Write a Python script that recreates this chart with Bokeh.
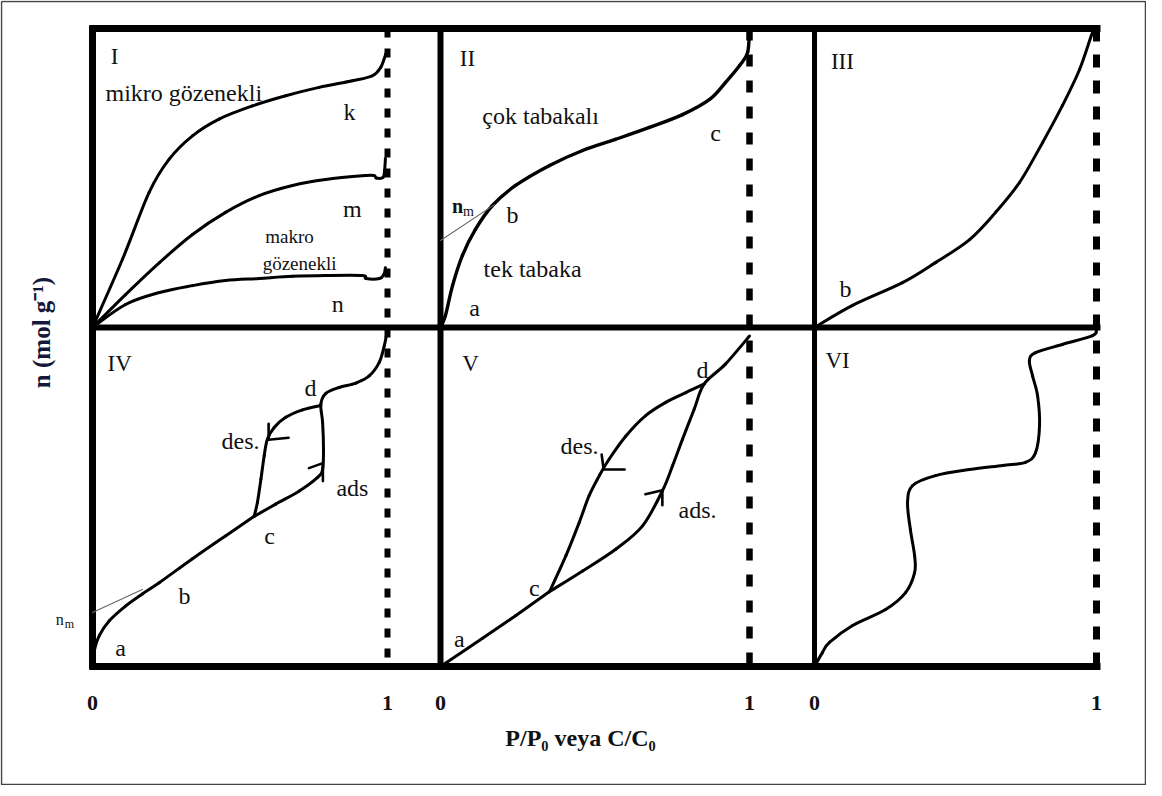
from bokeh.plotting import figure
from bokeh.models import Range1d
from bokeh.core.properties import value
from bokeh.embed import file_html
from bokeh.resources import INLINE

# ---------------- data: x = P/P0 (0..1), y = relative amount adsorbed n (0..1) ----------------
# Panel I  (micro / macro porous)
I_k_x = [0, 0.102, 0.192, 0.260, 0.339, 0.429, 0.542, 0.655, 0.768, 0.881, 0.949, 0.977, 0.994, 1.0]
I_k_y = [0, 0.229, 0.452, 0.563, 0.641, 0.697, 0.741, 0.775, 0.803, 0.825, 0.842, 0.870, 0.914, 0.925]
I_m_x = [0, 0.112, 0.227, 0.339, 0.451, 0.565, 0.678, 0.790, 0.925, 0.955, 0.962, 0.985, 0.990, 0.993]
I_m_y = [0, 0.110, 0.217, 0.311, 0.385, 0.441, 0.475, 0.495, 0.508, 0.508, 0.500, 0.502, 0.525, 0.565]
I_n_x = [0, 0.112, 0.227, 0.339, 0.451, 0.565, 0.678, 0.790, 0.915, 0.927, 0.973, 0.988, 0.993]
I_n_y = [0, 0.077, 0.117, 0.140, 0.157, 0.164, 0.171, 0.174, 0.174, 0.164, 0.164, 0.178, 0.200]

# Panel II
II_x = [0, 0.016, 0.039, 0.071, 0.113, 0.168, 0.243, 0.353, 0.460, 0.566, 0.676, 0.783, 0.871, 0.922, 0.968, 0.994, 1.0]
II_y = [0, 0.040, 0.140, 0.241, 0.328, 0.408, 0.475, 0.542, 0.592, 0.629, 0.669, 0.712, 0.763, 0.819, 0.876, 0.920, 1.0]
II_tan_x = [0, 0.175]
II_tan_y = [0.291, 0.411]

# Panel III
III_x = [0, 0.135, 0.312, 0.429, 0.550, 0.642, 0.727, 0.809, 0.879, 0.940, 0.986, 1.0]
III_y = [0, 0.074, 0.150, 0.217, 0.294, 0.385, 0.485, 0.619, 0.742, 0.863, 0.987, 1.0]

# Panel IV
IV_main_x = [0, 0.006, 0.023, 0.057, 0.113, 0.169, 0.226, 0.339, 0.452, 0.548]
IV_main_y = [0, 0.046, 0.091, 0.135, 0.179, 0.214, 0.247, 0.318, 0.386, 0.443]
IV_ads_x = [0.548, 0.621, 0.701, 0.763, 0.780, 0.783, 0.780, 0.774, 0.791, 0.836, 0.893, 0.938, 0.972, 0.989, 1.0]
IV_ads_y = [0.443, 0.479, 0.518, 0.558, 0.582, 0.641, 0.720, 0.774, 0.806, 0.823, 0.836, 0.857, 0.897, 0.946, 0.995]
IV_des_x = [0.774, 0.712, 0.655, 0.616, 0.593, 0.582, 0.571, 0.559, 0.548]
IV_des_y = [0.770, 0.757, 0.735, 0.705, 0.671, 0.622, 0.553, 0.484, 0.443]
IV_tan_x = [0, 0.169]
IV_tan_y = [0.159, 0.227]

# Panel V
V_main_x = [0, 0.136, 0.243, 0.353]
V_main_y = [0, 0.083, 0.150, 0.221]
V_ads_x = [0.353, 0.460, 0.567, 0.654, 0.718, 0.751, 0.783, 0.821, 0.853, 0.922, 1.0]
V_ads_y = [0.221, 0.282, 0.346, 0.415, 0.518, 0.592, 0.670, 0.759, 0.833, 0.892, 0.975]
V_des_x = [0.853, 0.794, 0.729, 0.664, 0.600, 0.546, 0.514, 0.481, 0.449, 0.406, 0.353]
V_des_y = [0.833, 0.808, 0.779, 0.740, 0.680, 0.612, 0.563, 0.504, 0.425, 0.327, 0.221]

# Panel VI (stepwise)
VI_x = [0, 0.028, 0.053, 0.135, 0.252, 0.323, 0.355, 0.355, 0.340, 0.330, 0.348, 0.429, 0.550,
        0.667, 0.748, 0.784, 0.798, 0.791, 0.773, 0.762, 0.784, 0.879, 0.986, 1.0]
VI_y = [0, 0.041, 0.071, 0.121, 0.168, 0.218, 0.277, 0.327, 0.404, 0.484, 0.534, 0.563, 0.581,
        0.593, 0.602, 0.631, 0.711, 0.799, 0.858, 0.903, 0.926, 0.950, 0.976, 0.994]

TICK_VALUES = [0, 1]
TICK_LABELS = ["0", "1"]
X_LABEL = "P/P\u2080 veya C/C\u2080"
Y_LABEL = "n (mol g\u207b\u00b9)"

# ---------------- layout (page pixels) ----------------
W, H = 1146, 785
PX0, PY0 = 8, 8
COL_X0 = [100, 448, 822]     # pixel of P/P0 = 0 in each column
COL_X1 = [395, 757, 1104]    # pixel of P/P0 = 1
ROW_Y0 = [335, 674]          # pixel of n = 0 in each row
ROW_Y1 = [36, 335]           # pixel of n = 1

p = figure(width=W, height=H, x_range=Range1d(PX0, PX0 + W), y_range=Range1d(PY0 + H, PY0),
           output_backend="svg", toolbar_location=None, x_axis_type=None, y_axis_type=None,
           min_border=0, outline_line_color=None, background_fill_color="white")

for c in range(3):
    k = COL_X1[c] - COL_X0[c]
    s = -(COL_X0[c] - PX0) / k
    p.extra_x_ranges[f"c{c}"] = Range1d(s, s + W / k)
for r in range(2):
    k = ROW_Y0[r] - ROW_Y1[r]
    e = 1 + (ROW_Y1[r] - PY0) / k
    p.extra_y_ranges[f"r{r}"] = Range1d(e - H / k, e)

def kx(c):
    return COL_X1[c] - COL_X0[c]

def ky(r):
    return ROW_Y0[r] - ROW_Y1[r]

BLACK = "#111111"

# outer border
p.line([9, 1153, 1153, 9, 9], [9, 9, 792, 792, 9], line_color="#444444", line_width=1.5)

# frame lines
for yy, lw in [(36, 7), (335, 6), (674, 7)]:
    p.line([97, 1108], [yy, yy], line_color="black", line_width=lw)
for xx, lw in [(100, 7), (448, 6), (822, 5)]:
    p.line([xx, xx], [33, 677], line_color="black", line_width=lw)
for xx, dash, lw in [(395, "9 11", 6), (757, "12 14", 6.5), (1104, "13 13", 7)]:
    p.line([xx, xx], [36, 674], line_color="black", line_width=lw, line_dash=dash)


def straight(xs, ys, c, r, lw=3.0, color="black"):
    p.line(xs, ys, x_range_name=f"c{c}", y_range_name=f"r{r}", line_color=color,
           line_width=lw, line_join="round", line_cap="round")


def curve(xs, ys, c, r, lw=3.0, color="black"):
    """Smooth path through the read points (cubic Bezier segments, Catmull-Rom tangents)."""
    n = len(xs)
    d = dict(x0=[], y0=[], x1=[], y1=[], cx0=[], cy0=[], cx1=[], cy1=[])
    for i in range(n - 1):
        a = max(i - 1, 0)
        b = min(i + 2, n - 1)
        d["x0"].append(xs[i]); d["y0"].append(ys[i])
        d["x1"].append(xs[i + 1]); d["y1"].append(ys[i + 1])
        d["cx0"].append(xs[i] + (xs[i + 1] - xs[a]) / 6)
        d["cy0"].append(ys[i] + (ys[i + 1] - ys[a]) / 6)
        d["cx1"].append(xs[i + 1] - (xs[b] - xs[i]) / 6)
        d["cy1"].append(ys[i + 1] - (ys[b] - ys[i]) / 6)
    p.bezier(x_range_name=f"c{c}", y_range_name=f"r{r}", line_color=color,
             line_width=lw, line_cap="round", **d)


curve(I_k_x, I_k_y, 0, 0)
curve(I_m_x, I_m_y, 0, 0)
curve(I_n_x, I_n_y, 0, 0)
curve(II_x, II_y, 1, 0, lw=3.4)
straight(II_tan_x, II_tan_y, 1, 0, lw=1.1, color="#666666")
curve(III_x, III_y, 2, 0)
curve(IV_main_x, IV_main_y, 0, 1)
curve(IV_ads_x, IV_ads_y, 0, 1)
curve(IV_des_x, IV_des_y, 0, 1)
straight(IV_tan_x, IV_tan_y, 0, 1, lw=1.1, color="#666666")
curve(V_main_x, V_main_y, 1, 1)
curve(V_ads_x, V_ads_y, 1, 1)
curve(V_des_x, V_des_y, 1, 1)
curve(VI_x, VI_y, 2, 1)

# arrowheads: (col, row, tip x, tip y, wing1 px offset, wing2 px offset)  offsets (dx, dy up)
ARROWS = [
    (0, 1, 0.781, 0.600, (0, -18), (-14, -5)),
    (0, 1, 0.597, 0.669, (0, 16), (20, 2)),
    (1, 1, 0.718, 0.520, (-17, -4), (0, -15)),
    (1, 1, 0.528, 0.581, (-2, 15), (21, 0)),
]
for c, r, tx, ty, w1, w2 in ARROWS:
    xs = [tx + w1[0] / kx(c), tx, tx + w2[0] / kx(c)]
    ys = [ty + w1[1] / ky(r), ty, ty + w2[1] / ky(r)]
    straight(xs, ys, c, r, lw=2.6)

FONT = value("Liberation Serif")
DY = 6  # baseline correction (px, downward)


def label(txt, c, r, x, y, size=24, bold=False, align="center"):
    p.text(x=[x], y=[y], text=[txt], x_range_name=f"c{c}", y_range_name=f"r{r}",
           text_font=FONT, text_font_size=f"{size}px", y_offset=DY,
           text_font_style="bold" if bold else "normal",
           text_align=align, text_baseline="middle", text_color=BLACK)


LABELS = [
    ("I", 0, 0, 0.075, 0.926, 23), ("mikro gözenekli", 0, 0, 0.044, 0.803, 24, "left"),
    ("k", 0, 0, 0.871, 0.742, 24), ("m", 0, 0, 0.881, 0.418, 24),
    ("makro", 0, 0, 0.668, 0.324, 19), ("gözenekli", 0, 0, 0.702, 0.234, 19),
    ("n", 0, 0, 0.831, 0.097, 24),
    ("II", 1, 0, 0.087, 0.920, 23), ("çok tabakalı", 1, 0, 0.324, 0.729, 24),
    ("c", 1, 0, 0.890, 0.669, 24), ("b", 1, 0, 0.233, 0.395, 24),
    ("tek tabaka", 1, 0, 0.298, 0.217, 24), ("a", 1, 0, 0.110, 0.084, 24),
    ("III", 2, 0, 0.099, 0.910, 23), ("b", 2, 0, 0.110, 0.150, 24),
    ("IV", 0, 1, 0.092, 0.912, 23), ("d", 0, 1, 0.739, 0.838, 24),
    ("des.", 0, 1, 0.502, 0.684, 24), ("ads", 0, 1, 0.881, 0.543, 24),
    ("c", 0, 1, 0.600, 0.404, 24), ("b", 0, 1, 0.312, 0.227, 24), ("a", 0, 1, 0.095, 0.071, 24),
    ("V", 1, 1, 0.097, 0.912, 23), ("d", 1, 1, 0.848, 0.891, 24),
    ("des.", 1, 1, 0.450, 0.667, 24), ("ads.", 1, 1, 0.832, 0.478, 24),
    ("c", 1, 1, 0.304, 0.248, 24), ("a", 1, 1, 0.061, 0.100, 24),
    ("VI", 2, 1, 0.082, 0.920, 23),
]
for item in LABELS:
    txt, c, r, x, y, size = item[:6]
    align = item[6] if len(item) > 6 else "center"
    label(txt, c, r, x, y, size=size, align=align)

# n_m markers (monolayer capacity)
label("n", 1, 0, 0.037, 0.425, size=20, bold=True, align="left")
label("m", 1, 0, 0.073, 0.409, size=14, align="left")
label("n", 0, 1, -0.125, 0.155, size=16, align="left")
label("m", 0, 1, -0.094, 0.143, size=12, align="left")

# tick labels
for c in range(3):
    for v, t in zip(TICK_VALUES, TICK_LABELS):
        label(t, c, 1, v, -0.091, size=22, bold=True)

# axis titles
p.text(x=[588], y=[741], text=[X_LABEL], text_font=FONT, text_font_size="24px", y_offset=4,
       text_font_style="bold", text_align="center", text_baseline="middle", text_color=BLACK)
p.text(x=[45], y=[340], text=[Y_LABEL], text_font=FONT, text_font_size="25px", angle=1.5708,
       x_offset=4, text_font_style="bold", text_align="center", text_baseline="middle",
       text_color="#14183a")

open("out.html", "w").write(file_html(p, INLINE))
